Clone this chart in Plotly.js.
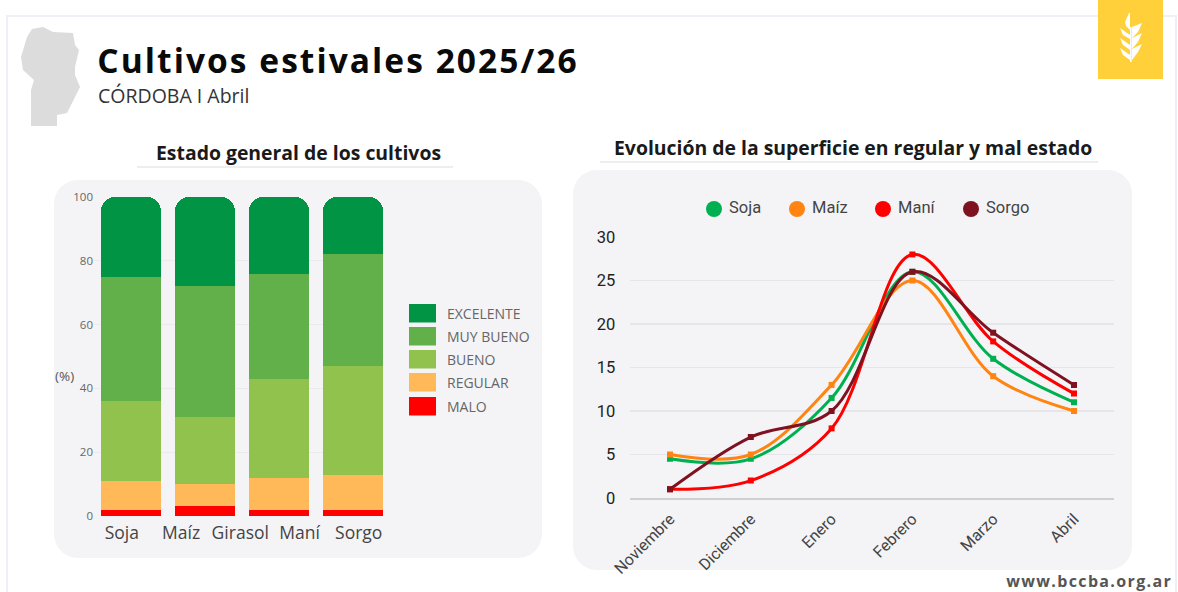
<!DOCTYPE html>
<html lang="es">
<head>
<meta charset="utf-8">
<script src="https://cdn.plot.ly/plotly-3.0.1.min.js"></script>
<style>
html,body{margin:0;padding:0;background:#fff;overflow:hidden}
#chart{width:1178px;height:592px}
.annotation[data-index="0"] text{letter-spacing:2.05px}
.annotation[data-index="4"] text{letter-spacing:1.35px}
</style>
</head>
<body>
<div id="chart"></div>
<script>
// ---------- Data ----------
const barCategories = ["Soja", "Maíz", "Maní", "Sorgo"];
const barAxisLabels = ["Soja", "Maíz", "Girasol", "Maní", "Sorgo"];
const malo      = [2, 3, 2, 2];
const regular   = [9, 7, 10, 11];
const bueno     = [25, 21, 31, 34];
const muyBueno  = [39, 41, 33, 35];
const excelente = [25, 28, 24, 18];

const months = ["Noviembre", "Diciembre", "Enero", "Febrero", "Marzo", "Abril"];
const soja  = [4.5, 4.5, 11.5, 26, 16, 11];
const maiz  = [5, 5, 13, 25, 14, 10];
const mani  = [1, 2, 8, 28, 18, 12];
const sorgo = [1, 7, 10, 26, 19, 13];

// ---------- Styling ----------
const W = 1178, H = 592;
const px = x => x / W;
const py = y => 1 - y / H;
const SANS = '"Open Sans", sans-serif';
const ROBOTO = 'Roboto, sans-serif';

const stateSeries = [
  {name: "MALO", values: malo, color: "#ff0000"},
  {name: "REGULAR", values: regular, color: "#ffb958"},
  {name: "BUENO", values: bueno, color: "#92c24e"},
  {name: "MUY BUENO", values: muyBueno, color: "#62b04a"},
  {name: "EXCELENTE", values: excelente, color: "#009444"}
];
const lineSeries = [
  {name: "Soja", values: soja, color: "#00b050"},
  {name: "Maíz", values: maiz, color: "#ff8412"},
  {name: "Maní", values: mani, color: "#ff0000"},
  {name: "Sorgo", values: sorgo, color: "#7f1220"}
];

const traces = [];
stateSeries.forEach(s => traces.push({
  type: "bar", name: s.name, x: barCategories, y: s.values,
  marker: {color: s.color, line: {width: 0}},
  xaxis: "x", yaxis: "y", showlegend: false
}));
traces.push({
  type: "scatter", mode: "lines", x: barAxisLabels, y: barAxisLabels.map(() => null),
  xaxis: "x3", yaxis: "y", showlegend: false, hoverinfo: "skip"
});
lineSeries.forEach(s => traces.push({
  type: "scatter", mode: "lines+markers", name: s.name, x: months, y: s.values,
  line: {color: s.color, width: 3, shape: "spline", smoothing: 1},
  marker: {color: s.color, size: 6, symbol: "square"},
  xaxis: "x2", yaxis: "y2", showlegend: false
}));

// ---------- Decoration helpers ----------
function roundRect(x0, y0, x1, y1, r) {
  const k = r * 0.45;
  const P = (x, y) => px(x) + "," + py(y);
  return "M" + P(x0 + r, y0) + " L" + P(x1 - r, y0) +
    " C" + P(x1 - k, y0) + " " + P(x1, y0 + k) + " " + P(x1, y0 + r) +
    " L" + P(x1, y1 - r) +
    " C" + P(x1, y1 - k) + " " + P(x1 - k, y1) + " " + P(x1 - r, y1) +
    " L" + P(x0 + r, y1) +
    " C" + P(x0 + k, y1) + " " + P(x0, y1 - k) + " " + P(x0, y1 - r) +
    " L" + P(x0, y0 + r) +
    " C" + P(x0, y0 + k) + " " + P(x0 + k, y0) + " " + P(x0 + r, y0) + " Z";
}
const poly = pts => "M" + pts.map(p => px(p[0]) + "," + py(p[1])).join(" L") + " Z";
const rect = (x0, y0, x1, y1, color) => ({
  type: "rect", xref: "paper", yref: "paper", layer: "below",
  x0: px(x0), x1: px(x1), y0: py(y0), y1: py(y1),
  fillcolor: color, line: {width: 0}
});
const fillPath = (path, color) => ({
  type: "path", xref: "paper", yref: "paper", layer: "below",
  path: path, fillcolor: color, line: {width: 0}
});

const mapOutline = [[32,29],[43,27],[53,32],[73,33],[75,45],[79,50],[75,67],[75,75],[80,87],[67,113],[57,115],[57,126],[31,126],[31,90],[34,80],[23,70],[21,57],[27,37]];
const wheatLeaves = [
  [[1129,13],[1125,22],[1126,26],[1130,30],[1130,13]],
  [[1120,28],[1130,35],[1130,39],[1123,35]],
  [[1142,23],[1132,27],[1132,38],[1138,32]],
  [[1120,38],[1130,45],[1130,50],[1123,45]],
  [[1142,33],[1132,38],[1132,49],[1138,42]],
  [[1120,48],[1130,55],[1130,60],[1123,55]],
  [[1142,44],[1132,49],[1132,60],[1138,52]]
];

const shapes = [
  rect(6, 15, 1176, 17, "#efeff6"),
  rect(6, 15, 8, 592, "#efeff6"),
  rect(1175, 15, 1177, 592, "#efeff6"),
  fillPath(roundRect(54, 180, 542, 558, 24), "#f4f4f7"),
  fillPath(roundRect(573, 170, 1132, 570, 24), "#f4f4f7"),
  rect(137, 166, 453, 168, "#eeeeee"),
  rect(600, 161, 1098, 163, "#eeeeee"),
  fillPath(poly(mapOutline), "#dcdcdc"),
  rect(1098, 0, 1163, 79, "#ffd03a"),
  rect(1130, 27, 1131.6, 62, "#ffffff")
];
wheatLeaves.forEach(l => shapes.push(fillPath(poly(l), "#ffffff")));

const note = (text, x, y, size, color, family, anchor, bold) => ({
  text: bold ? "<b>" + text + "</b>" : text,
  xref: "paper", yref: "paper", x: px(x), y: py(y),
  xanchor: anchor || "left", yanchor: "middle", showarrow: false,
  font: {size: size, color: color, family: family}
});

const annotations = [
  note("Cultivos estivales 2025/26", 338, 60, 33.5, "#0a0a0a", SANS, "center", true),
  note("CÓRDOBA I Abril", 96, 95.5, 19.5, "#333333", SANS),
  note("Estado general de los cultivos", 298, 152, 19.4, "#1a1a1a", SANS, "center", true),
  note("Evolución de la superficie en regular y mal estado", 852.5, 147.5, 19.4, "#1a1a1a", SANS, "center", true),
  note("www.bccba.org.ar", 1088.5, 580.5, 16, "#555555", SANS, "center", true),
  note("(%)", 53, 376, 13.5, "#555555", SANS)
];

// custom legends, driven by the series tables
const stateLegendTop = [304, 327, 350, 373, 397];
stateSeries.slice().reverse().forEach((s, i) => {
  shapes.push(rect(409, stateLegendTop[i], 436, stateLegendTop[i] + 18.5, s.color));
  annotations.push(note(s.name, 445, stateLegendTop[i] + 9.5, 14, "#666666", SANS));
});
const lineLegendX = [714, 797, 883, 971];
lineSeries.forEach((s, i) => {
  const c = lineLegendX[i];
  shapes.push({
    type: "circle", xref: "paper", yref: "paper", layer: "below",
    x0: px(c - 8), x1: px(c + 8), y0: py(217), y1: py(201),
    fillcolor: s.color, line: {width: 0}
  });
  annotations.push(note(s.name, c + 13, 208, 16.5, "#444444", ROBOTO));
});

const layout = {
  width: W, height: H,
  margin: {l: 0, r: 0, t: 0, b: 0},
  paper_bgcolor: "#ffffff", plot_bgcolor: "rgba(0,0,0,0)",
  showlegend: false,
  barmode: "stack", bargap: 0.19, barcornerradius: 14,
  xaxis: {
    domain: [px(94), px(383)], anchor: "y", type: "category",
    range: [-0.5, 3.405], showticklabels: false, showgrid: false,
    zeroline: false, showline: false, ticks: "", fixedrange: true
  },
  xaxis3: {
    domain: [px(94), px(383)], anchor: "y", overlaying: "x", type: "category",
    categoryorder: "array", categoryarray: barAxisLabels,
    tickmode: "array", tickvals: barAxisLabels, ticktext: barAxisLabels,
    range: [-0.47, 4.41], showgrid: false, zeroline: false, showline: false,
    ticks: "outside", ticklen: 1, tickcolor: "rgba(0,0,0,0)",
    tickangle: 0,
    tickfont: {family: SANS, size: 17.5, color: "#444444"}, fixedrange: true
  },
  yaxis: {
    domain: [py(516), py(197)], anchor: "x", range: [0, 100],
    tickmode: "array", tickvals: [0, 20, 40, 60, 80, 100],
    gridcolor: "#ebebee", gridwidth: 1, zeroline: false, showline: false,
    ticks: "",
    tickfont: {family: SANS, size: 11.5, color: "#666666"}, fixedrange: true
  },
  xaxis2: {
    domain: [px(629.6), px(1114.4)], anchor: "y2", type: "category",
    range: [-0.5, 5.5], tickangle: -45, showgrid: false, zeroline: false,
    showline: true, linecolor: "#cfcfd4", linewidth: 1.5,
    ticks: "outside", ticklen: 4, tickcolor: "rgba(0,0,0,0)",
    tickfont: {family: ROBOTO, size: 16, color: "#444444"}, fixedrange: true
  },
  yaxis2: {
    domain: [py(498), py(237)], anchor: "x2", range: [0, 30],
    tickmode: "array", tickvals: [0, 5, 10, 15, 20, 25, 30],
    gridcolor: "#e6e6ea", gridwidth: 1.5, zeroline: false, showline: false,
    ticks: "outside", ticklen: 10, tickcolor: "rgba(0,0,0,0)",
    tickfont: {family: ROBOTO, size: 16.5, color: "#222222"}, fixedrange: true
  },
  shapes: shapes,
  annotations: annotations
};

Plotly.newPlot("chart", traces, layout, {displayModeBar: false, staticPlot: true});
</script>
</body>
</html>
